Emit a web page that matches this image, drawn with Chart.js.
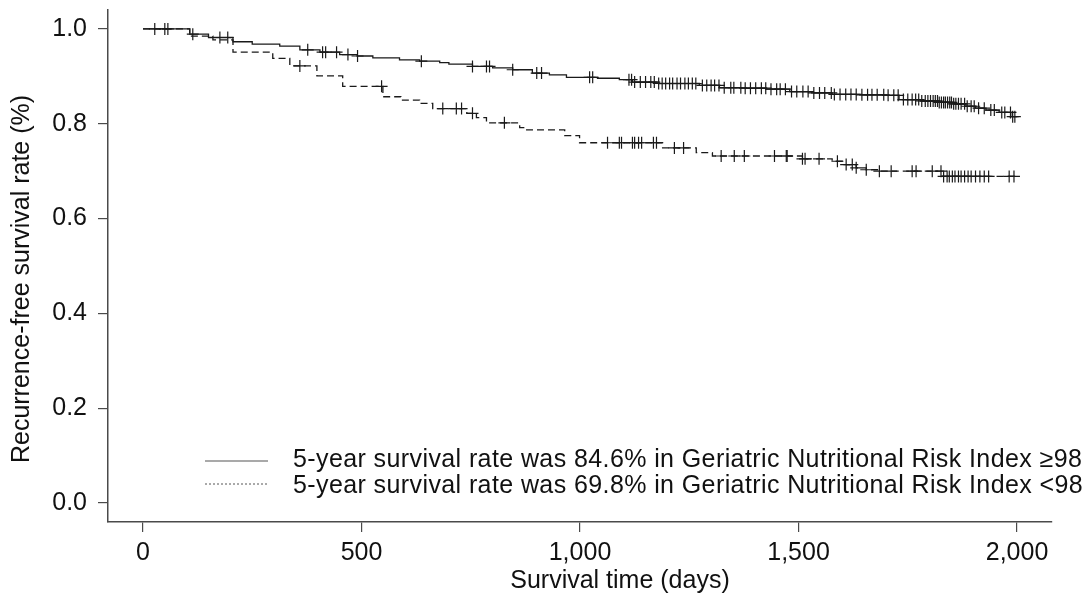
<!DOCTYPE html>
<html>
<head>
<meta charset="utf-8">
<script src="https://cdn.jsdelivr.net/npm/chart.js@4.4.1/dist/chart.umd.min.js"></script>
<style>
  html, body { margin: 0; padding: 0; background: #fff; }
</style>
</head>
<body>
<canvas id="km" width="1082" height="594"></canvas>
<script>
// Kaplan-Meier curves (days, survival)
const highTimes = [0, 78, 107, 150, 206, 250, 313, 359, 405, 450, 490, 526, 587, 633, 679, 700, 754, 800, 846, 891, 930, 969, 1040, 1090, 1120, 1180, 1273, 1319, 1370, 1426, 1480, 1530, 1577, 1640, 1701, 1730, 1780, 1822, 1855, 1883, 1905, 1929, 1959, 1989, 2000]
const highSurv  = [1.0, 1.0, 0.989, 0.982, 0.973, 0.968, 0.964, 0.956, 0.951, 0.946, 0.943, 0.939, 0.935, 0.932, 0.929, 0.926, 0.921, 0.918, 0.914, 0.907, 0.903, 0.898, 0.896, 0.893, 0.888, 0.885, 0.881, 0.876, 0.875, 0.873, 0.868, 0.865, 0.862, 0.861, 0.860, 0.851, 0.848, 0.845, 0.842, 0.837, 0.833, 0.829, 0.824, 0.815, 0.815]

const lowTimes = [0, 107, 160, 206, 297, 336, 398, 457, 549, 590, 633, 663, 741, 763, 786, 862, 878, 965, 999, 1189, 1266, 1303, 1509, 1577, 1600, 1632, 1655, 1685, 1829, 2000]
const lowSurv  = [1.0, 0.985, 0.977, 0.951, 0.938, 0.922, 0.901, 0.879, 0.857, 0.850, 0.843, 0.832, 0.822, 0.813, 0.802, 0.792, 0.787, 0.775, 0.760, 0.749, 0.739, 0.732, 0.726, 0.721, 0.714, 0.707, 0.703, 0.700, 0.689, 0.689]

// censored observations (days)
const highCensor = [27, 50, 57, 114, 176, 194, 377, 411, 418, 443, 469, 491, 637, 754, 786, 793, 846, 901, 912, 1022, 1029, 1112, 1118, 1125, 1138, 1150, 1162, 1170, 1180, 1188, 1196, 1205, 1212, 1222, 1230, 1240, 1248, 1257, 1265, 1280, 1290, 1300, 1308, 1318, 1330, 1345, 1352, 1368, 1378, 1390, 1402, 1415, 1425, 1437, 1450, 1458, 1470, 1484, 1496, 1510, 1522, 1535, 1548, 1560, 1575, 1582, 1595, 1608, 1620, 1632, 1645, 1658, 1668, 1680, 1695, 1705, 1718, 1728, 1740, 1750, 1760, 1768, 1775, 1782, 1790, 1796, 1802, 1808, 1813, 1818, 1822, 1827, 1832, 1836, 1841, 1846, 1850, 1855, 1860, 1866, 1872, 1880, 1886, 1895, 1902, 1912, 1925, 1940, 1948, 1965, 1972, 1985, 1990, 1995]
const lowCensor = [359, 546, 686, 717, 729, 754, 827, 1063, 1090, 1095, 1120, 1125, 1134, 1141, 1168, 1175, 1216, 1237, 1323, 1353, 1376, 1445, 1472, 1474, 1509, 1515, 1547, 1589, 1609, 1623, 1632, 1655, 1685, 1712, 1760, 1769, 1806, 1826, 1832, 1840, 1845, 1852, 1858, 1866, 1872, 1880, 1888, 1895, 1905, 1915, 1925, 1935, 1982, 1993]

const xTicks = [0, 500, 1000, 1500, 2000]
const xTickLabels = ['0', '500', '1,000', '1,500', '2,000']
const yTicks = [0, 0.2, 0.4, 0.6, 0.8, 1.0]
const yTickLabels = ['0.0', '0.2', '0.4', '0.6', '0.8', '1.0']

const xTitle = 'Survival time (days)'
const yTitle = 'Recurrence-free survival rate (%)'
const legendLabels = [
  '5-year survival rate was 84.6% in Geriatric Nutritional Risk Index \u226598',
  '5-year survival rate was 69.8% in Geriatric Nutritional Risk Index <98'
]

const ink = '#1a1a1a'
const axisInk = '#4a4a4a'
const font = "'Liberation Sans', Arial, sans-serif"
const fontSize = 25

function toPoints(times, surv) {
  return times.map((t, i) => ({ x: t, y: surv[i] }))
}

// value of the step curve at time t, so the + sits on the line
function stepAt(times, surv, t) {
  let v = surv[0]
  for (let i = 0; i < times.length; i++) {
    if (times[i] <= t) v = surv[i]
  }
  return v
}

function censorPoints(cens, times, surv) {
  return cens.map(t => ({ x: t, y: stepAt(times, surv, t) }))
}

// legend + axis titles, placed where the original figure has them
const annotations = {
  id: 'annotations',
  afterDraw(chart) {
    const ctx = chart.ctx
    ctx.save()
    ctx.strokeStyle = '#555'
    ctx.lineWidth = 1.2
    ctx.beginPath()
    ctx.moveTo(205, 461)
    ctx.lineTo(268, 461)
    ctx.stroke()
    ctx.setLineDash([2, 2])
    ctx.lineWidth = 1
    ctx.beginPath()
    ctx.moveTo(205, 484)
    ctx.lineTo(268, 484)
    ctx.stroke()
    ctx.setLineDash([])

    ctx.fillStyle = '#111'
    ctx.font = fontSize + 'px ' + font
    ctx.textBaseline = 'middle'
    ctx.textAlign = 'left'
    ctx.letterSpacing = '0.4px'
    ctx.fillText(legendLabels[0], 293, 460)
    ctx.fillText(legendLabels[1], 293, 486)
    ctx.letterSpacing = '0px'

    ctx.textAlign = 'center'
    ctx.fillText(xTitle, 620, 581)

    ctx.translate(22, 279)
    ctx.rotate(-Math.PI / 2)
    ctx.fillText(yTitle, 0, 0)
    ctx.restore()
  }
}

new Chart(document.getElementById('km'), {
  type: 'scatter',
  data: {
    datasets: [
      {
        label: legendLabels[0],
        data: toPoints(highTimes, highSurv),
        showLine: true,
        stepped: true,
        borderColor: ink,
        borderWidth: 1.3,
        pointRadius: 0
      },
      {
        label: legendLabels[1],
        data: toPoints(lowTimes, lowSurv),
        showLine: true,
        stepped: true,
        borderColor: ink,
        borderWidth: 1.3,
        borderDash: [7, 4],
        pointRadius: 0
      },
      {
        label: 'censored high',
        data: censorPoints(highCensor, highTimes, highSurv),
        pointStyle: 'cross',
        pointRadius: 6,
        borderColor: ink,
        borderWidth: 1.2
      },
      {
        label: 'censored low',
        data: censorPoints(lowCensor, lowTimes, lowSurv),
        pointStyle: 'cross',
        pointRadius: 6,
        borderColor: ink,
        borderWidth: 1.2
      }
    ]
  },
  options: {
    responsive: false,
    animation: false,
    layout: { padding: { top: 10, right: 30, left: 0, bottom: 0 } },
    plugins: {
      legend: { display: false },
      tooltip: { enabled: false }
    },
    scales: {
      x: {
        type: 'linear',
        min: -80,
        max: 2080,
        afterBuildTicks: scale => { scale.ticks = xTicks.map(v => ({ value: v })) },
        afterFit: scale => {
          scale.height = 72
          scale.paddingLeft = 0
          scale.paddingRight = 0
        },
        ticks: {
          callback: (v) => xTickLabels[xTicks.indexOf(v)],
          color: '#111',
          font: { family: font, size: fontSize },
          padding: 6,
          maxRotation: 0
        },
        grid: { drawOnChartArea: false, tickLength: 10, color: axisInk, lineWidth: 1.2 },
        border: { display: true, color: axisInk, width: 1.5 }
      },
      y: {
        min: -0.04,
        max: 1.04,
        afterBuildTicks: scale => { scale.ticks = yTicks.map(v => ({ value: v })) },
        afterFit: scale => {
          scale.width = 108
          scale.paddingTop = 0
          scale.paddingBottom = 0
        },
        ticks: {
          callback: (v) => yTickLabels[yTicks.indexOf(v)],
          color: '#111',
          font: { family: font, size: fontSize },
          padding: 11
        },
        grid: { drawOnChartArea: false, tickLength: 10, color: axisInk, lineWidth: 1.2 },
        border: { display: true, color: axisInk, width: 1.5 }
      }
    }
  },
  plugins: [annotations]
})
</script>
</body>
</html>
